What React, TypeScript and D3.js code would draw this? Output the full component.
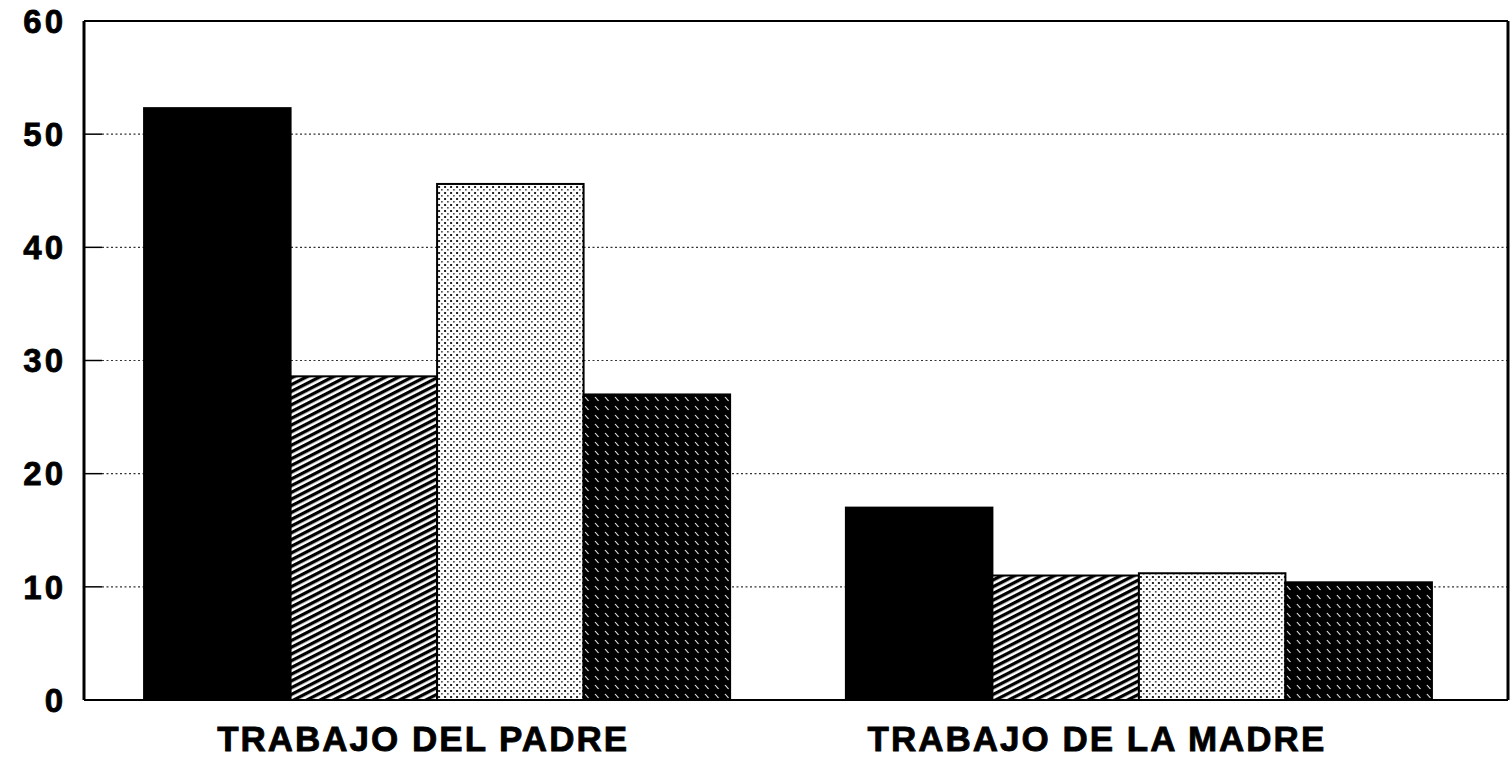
import React from "react";
import * as d3 from "d3";

const categories = ["TRABAJO DEL PADRE", "TRABAJO DE LA MADRE"];
const seriesNames = ["s1", "s2", "s3", "s4"];
const seriesValues: number[][] = [
  [52.3, 17.0],
  [28.6, 11.0],
  [45.6, 11.2],
  [27.0, 10.4],
];
const yTicks = [0, 10, 20, 30, 40, 50, 60];
const fills = ["#000", "url(#hatch)", "url(#dots)", "url(#darkhatch)"];
const labelDx = [-14, -42];

const W = 1512;
const H = 759;
const left = 84;
const right = 1508;
const top = 21;
const bottom = 700;
const shift = 8;

export default function App() {
  const y = d3.scaleLinear().domain([0, 60]).range([bottom, top]);
  const x0 = d3
    .scaleBand<string>()
    .domain(categories)
    .range([left - shift, right - shift])
    .paddingInner(0.165)
    .paddingOuter(0.097);
  const x1 = d3
    .scaleBand<string>()
    .domain(seriesNames)
    .range([0, x0.bandwidth()])
    .padding(0);

  return (
    <svg
      width={W}
      height={H}
      style={{ position: "absolute", left: 0, top: 0, background: "#fff" }}
      fontFamily="'Liberation Sans', Arial, sans-serif"
    >
      <defs>
        <pattern
          id="hatch"
          patternUnits="userSpaceOnUse"
          width={6}
          height={6}
          patternTransform="rotate(-27)"
        >
          <rect width={6} height={6} fill="#fff" />
          <rect y={0} width={6} height={3.3} fill="#000" />
        </pattern>
        <pattern id="dots" patternUnits="userSpaceOnUse" width={6} height={6}>
          <rect width={6} height={6} fill="#fff" />
          <rect x={0} y={0} width={2} height={2} fill="#222" />
          <rect x={3} y={3} width={1.6} height={1.6} fill="#444" />
        </pattern>
        <pattern
          id="darkhatch"
          patternUnits="userSpaceOnUse"
          width={10}
          height={9}
        >
          <rect width={10} height={9} fill="#000" />
          <line x1={1} y1={1} x2={4.5} y2={5} stroke="#fff" strokeWidth={1.1} />
        </pattern>
      </defs>

      {/* gridlines */}
      {yTicks
        .filter((t) => t > 0 && t < 60)
        .map((t) => (
          <g key={"g" + t}>
            <line
              x1={left + 18}
              x2={right}
              y1={y(t)}
              y2={y(t)}
              stroke="#333"
              strokeWidth={1.2}
              strokeDasharray="2,2.5"
            />
            <line
              x1={left}
              x2={left + 18}
              y1={y(t)}
              y2={y(t)}
              stroke="#000"
              strokeWidth={1.5}
            />
          </g>
        ))}

      {/* bars */}
      {categories.map((c, ci) => (
        <g key={c} transform={`translate(${x0(c)},0)`}>
          {seriesNames.map((s, si) => {
            const v = seriesValues[si][ci];
            return (
              <rect
                key={s}
                x={x1(s)}
                y={y(v)}
                width={x1.bandwidth()}
                height={y(0) - y(v)}
                fill={fills[si]}
                stroke="#000"
                strokeWidth={2}
              />
            );
          })}
        </g>
      ))}

      {/* frame */}
      <line x1={left} x2={right} y1={top} y2={top} stroke="#000" strokeWidth={2} />
      <line x1={left} x2={right} y1={bottom} y2={bottom} stroke="#000" strokeWidth={2} />
      <line x1={left} x2={left} y1={top} y2={bottom} stroke="#000" strokeWidth={3} />
      <line x1={right} x2={right} y1={top} y2={bottom} stroke="#000" strokeWidth={3} />

      {/* y tick labels */}
      {yTicks.map((t) => (
        <text
          key={"t" + t}
          x={66}
          y={y(t) + 3}
          textAnchor="end"
          dominantBaseline="middle"
          fontSize={33}
          fontWeight="bold"
          letterSpacing={3}
          stroke="#000"
          strokeWidth={0.8}
        >
          {t}
        </text>
      ))}

      {/* category labels */}
      {categories.map((c, ci) => (
        <text
          key={"c" + c}
          x={(x0(c) as number) + x0.bandwidth() / 2 + labelDx[ci]}
          y={751}
          textAnchor="middle"
          fontSize={35}
          fontWeight="bold"
          letterSpacing={2}
          stroke="#000"
          strokeWidth={0.8}
        >
          {c}
        </text>
      ))}
    </svg>
  );
}
